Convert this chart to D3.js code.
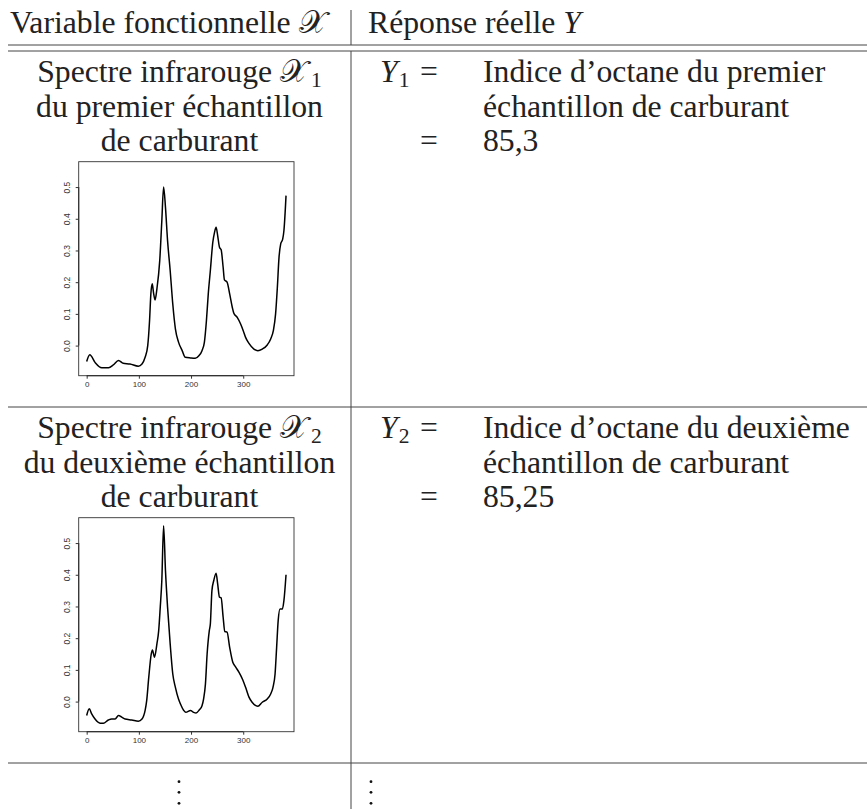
<!DOCTYPE html>
<html>
<head>
<meta charset="utf-8">
<script src="https://cdn.jsdelivr.net/npm/d3@7"></script>
<style>
    body { margin: 0; background: white; }
    svg { display: block; }
</style>
</head>
<body>
<script>
// spectra (wavelength index, absorbance)
const spec1X = [0, 6, 16, 29, 42, 51, 61, 70, 83, 99, 106, 112, 117, 120.5, 123, 125.6, 128, 131, 134.6, 140, 144, 147.4, 151, 155, 160, 165, 170, 176, 183, 189, 199, 208, 215, 221, 225.6, 229.5, 233, 237, 241.7, 245, 248, 251, 254.5, 257.7, 261.5, 264, 269, 274, 279, 282, 288.5, 295, 300, 304.5, 311, 320.5, 328, 336.5, 346, 352.6, 357.7, 362, 365.4, 368.6, 371.8, 375.6, 378, 382];
const spec1Y = [-0.050, -0.029, -0.053, -0.070, -0.070, -0.061, -0.047, -0.056, -0.058, -0.065, -0.058, -0.037, 0.000, 0.079, 0.163, 0.195, 0.168, 0.144, 0.179, 0.268, 0.394, 0.500, 0.436, 0.331, 0.237, 0.131, 0.053, 0.011, -0.016, -0.037, -0.039, -0.040, -0.032, -0.016, 0.011, 0.079, 0.163, 0.237, 0.326, 0.357, 0.373, 0.347, 0.310, 0.302, 0.247, 0.207, 0.200, 0.163, 0.121, 0.102, 0.089, 0.068, 0.047, 0.026, 0.007, -0.011, -0.016, -0.011, 0.002, 0.021, 0.047, 0.100, 0.184, 0.279, 0.321, 0.336, 0.363, 0.473];
const spec2X = [0, 5, 9.6, 16, 25.6, 32, 41.7, 48, 54.5, 61, 67, 73.7, 86.5, 99, 106, 112, 115, 119, 123.7, 126, 130, 134.6, 138, 141, 144, 147.4, 151, 155, 160, 165, 170, 176, 179.5, 186, 190, 199, 205, 209.6, 216, 221, 224, 227.6, 230.8, 235, 237, 240, 243.6, 248, 251, 254.5, 257.7, 261.5, 264.7, 269, 274, 280, 285, 291.7, 299, 304.5, 311, 317, 328, 336.5, 346, 352.6, 357, 361, 364, 367, 370.5, 375, 378, 382];
const spec2Y = [-0.044, -0.023, -0.039, -0.055, -0.068, -0.068, -0.058, -0.055, -0.055, -0.044, -0.049, -0.055, -0.058, -0.062, -0.055, -0.028, 0.003, 0.077, 0.150, 0.163, 0.140, 0.182, 0.224, 0.298, 0.382, 0.555, 0.413, 0.298, 0.182, 0.087, 0.045, 0.008, -0.007, -0.028, -0.034, -0.028, -0.034, -0.036, -0.026, -0.013, 0.008, 0.056, 0.150, 0.224, 0.245, 0.350, 0.382, 0.405, 0.371, 0.329, 0.327, 0.266, 0.221, 0.219, 0.171, 0.124, 0.110, 0.093, 0.069, 0.045, 0.014, -0.002, -0.015, -0.002, 0.008, 0.024, 0.045, 0.087, 0.171, 0.256, 0.292, 0.292, 0.319, 0.400];
const xTicks = [0, 100, 200, 300];
const yTicks = [0.0, 0.1, 0.2, 0.3, 0.4, 0.5];
const ordinals = ["premier", "deuxième"];
const octane = ["85,3", "85,25"];
const headerLeft = "Variable fonctionnelle ";
const headerRight = "Réponse réelle ";

const width = 867, height = 809;
const serif = "'Liberation Serif', 'DejaVu Serif', serif";
const sans = "'Liberation Sans', Arial, sans-serif";

const svg = d3.select('body').append('svg')
    .attr('width', width)
    .attr('height', height);

// pick the serif size so one reference line has the width of the original
const probe = svg.append('text').style('font-family', serif).style('font-size', '100px')
    .text('du premier échantillon');
const fs = 100 * 287 / probe.node().getComputedTextLength();
probe.remove();

const colX = 351, tableLeft = 8;
const rowTop = [51, 407];
const lineGap = 34.5;
const firstBase = 31;

const ink = '#222';
const rule = '#444';

// rules of the table
function hline(y) {
    svg.append('line').attr('x1', tableLeft).attr('x2', width)
        .attr('y1', y).attr('y2', y)
        .style('stroke', rule).style('stroke-width', 1);
}
hline(45); hline(51); hline(407); hline(763);
svg.append('line').attr('x1', colX).attr('x2', colX).attr('y1', 10).attr('y2', 45)
    .style('stroke', rule).style('stroke-width', 1);
svg.append('line').attr('x1', colX).attr('x2', colX).attr('y1', 51).attr('y2', height)
    .style('stroke', rule).style('stroke-width', 1);

function txt(x, y, anchor) {
    return svg.append('text').attr('x', x).attr('y', y)
        .attr('text-anchor', anchor || 'start')
        .style('font-family', serif).style('font-size', fs + 'px')
        .style('fill', ink);
}
function addSub(t, s, dx) {
    t.append('tspan').attr('dx', dx || 0).attr('dy', fs * 0.17)
        .style('font-size', (fs * 0.68) + 'px').style('font-style', 'normal').text(s);
}

// header
let h = txt(10, 33);
h.append('tspan').text(headerLeft);
h.append('tspan').text('𝒳');
h = txt(368, 33);
h.append('tspan').text(headerRight);
h.append('tspan').style('font-style', 'italic').text('Y');

// one row per sample
const specs = [[spec1X, spec1Y], [spec2X, spec2Y]];
const allY = spec1Y.concat(spec2Y);
const allX = spec1X.concat(spec2X);
const xe = d3.extent(allX), ye = d3.extent(allY);
const xPad = (xe[1] - xe[0]) * 0.04, yPad = (ye[1] - ye[0]) * 0.04;

const frame = {left: 78.7, right: 294, top: 110.7, height: 214};

specs.forEach(function(sp, i) {
    const top = rowTop[i];
    const b0 = top + firstBase;

    // left column text
    let t = txt(179.5, b0, 'middle');
    t.append('tspan').text('Spectre infrarouge ');
    t.append('tspan').text('𝒳');
    addSub(t, String(i + 1), 3);
    txt(179.5, b0 + lineGap, 'middle').text('du ' + ordinals[i] + ' échantillon');
    txt(179.5, b0 + 2 * lineGap, 'middle').text('de carburant');

    // right column text
    t = txt(380, b0);
    t.append('tspan').style('font-style', 'italic').text('Y');
    addSub(t, String(i + 1), 1);
    txt(429, b0, 'middle').text('=');
    txt(483, b0).text('Indice d’octane du ' + ordinals[i]);
    txt(483, b0 + lineGap).text('échantillon de carburant');
    txt(429, b0 + 2 * lineGap, 'middle').text('=');
    txt(483, b0 + 2 * lineGap).text(octane[i]);

    // small spectrum plot
    const fy = top + frame.top;
    const x = d3.scaleLinear().domain([xe[0] - xPad, xe[1] + xPad]).range([frame.left, frame.right]);
    const y = d3.scaleLinear().domain([ye[0] - yPad, ye[1] + yPad]).range([fy + frame.height, fy]);
    const g = svg.append('g');

    g.append('rect').attr('x', frame.left).attr('y', fy)
        .attr('width', frame.right - frame.left).attr('height', frame.height)
        .style('fill', 'none').style('stroke', '#333').style('stroke-width', 0.9);

    const xAxis = g.append('g').attr('transform', 'translate(0,' + (fy + frame.height) + ')')
        .call(d3.axisBottom(x).tickValues(xTicks).tickSize(3).tickPadding(3).tickFormat(d3.format('d')));
    xAxis.select('.domain').remove();
    xAxis.selectAll('line').style('stroke', '#333');
    xAxis.selectAll('text').style('font-family', sans).style('font-size', '8px').style('fill', '#333');
    g.append('line').attr('x1', x(xTicks[0])).attr('x2', x(xTicks[xTicks.length - 1]))
        .attr('y1', fy + frame.height).attr('y2', fy + frame.height)
        .style('stroke', '#333').style('stroke-width', 1.2);

    const yAxis = g.append('g').attr('transform', 'translate(' + frame.left + ',0)')
        .call(d3.axisLeft(y).tickValues(yTicks).tickSize(3).tickFormat(d3.format('.1f')));
    yAxis.select('.domain').remove();
    yAxis.selectAll('line').style('stroke', '#333');
    yAxis.selectAll('text')
        .attr('x', null).attr('dy', null)
        .attr('text-anchor', 'middle')
        .attr('transform', 'translate(-9,0) rotate(-90)')
        .style('font-family', sans).style('font-size', '8.5px').style('fill', '#333');
    g.append('line').attr('x1', frame.left).attr('x2', frame.left)
        .attr('y1', y(yTicks[0])).attr('y2', y(yTicks[yTicks.length - 1]))
        .style('stroke', '#333').style('stroke-width', 1.2);

    const line = d3.line()
        .x(function(d) { return x(d[0]); })
        .y(function(d) { return y(d[1]); })
        .curve(d3.curveMonotoneX);
    g.append('path')
        .datum(d3.zip(sp[0], sp[1]))
        .attr('d', line)
        .style('fill', 'none').style('stroke', '#000').style('stroke-width', 1.5);
});

// vertical ellipsis in the last row
[179, 371].forEach(function(cx) {
    [781.7, 792.3, 803.3].forEach(function(cy) {
        svg.append('circle').attr('cx', cx).attr('cy', cy).attr('r', 1.4).style('fill', '#111');
    });
});
</script>
</body>
</html>
